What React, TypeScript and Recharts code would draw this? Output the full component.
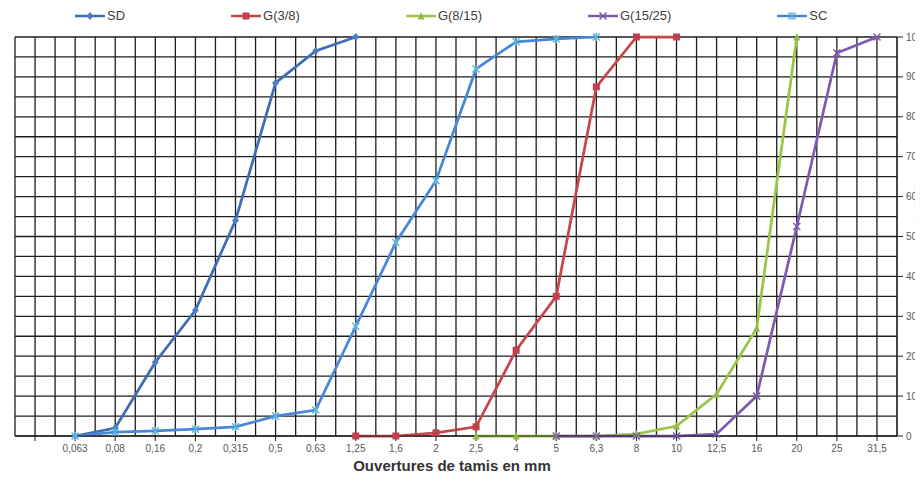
import React from "react";
import { CartesianGrid, Legend, Line, LineChart, XAxis, YAxis } from "recharts";

// sieve openings (mm); the first slot is an empty category, as in the original sheet
const sieves = ["", "0,063", "0,08", "0,16", "0,2", "0,315", "0,5", "0,63", "1,25", "1,6", "2", "2,5", "4", "5", "6,3", "8", "10", "12,5", "16", "20", "25", "31,5"];

// cumulative passing (%), null where the fraction was not tested
const sd = [null, 0, 2, 18.5, 31.5, 54, 88.5, 96.5, 100, null, null, null, null, null, null, null, null, null, null, null, null, null];
const g38 = [null, null, null, null, null, null, null, null, 0, 0, 0.8, 2.3, 21.5, 35, 87.5, 100, 100, null, null, null, null, null];
const g815 = [null, null, null, null, null, null, null, null, null, null, null, 0, 0, 0, 0, 0.5, 2.5, 10.5, 27, 100, null, null];
const g1525 = [null, null, null, null, null, null, null, null, null, null, null, null, null, 0, 0, 0, 0, 0.5, 10, 52.5, 96, 100];
const sc = [null, 0, 1, 1.3, 1.7, 2.3, 5, 6.5, 27.5, 48.5, 64, 92, 98.8, 99.5, 100, null, null, null, null, null, null, null];

const yTicks = [0, 10, 20, 30, 40, 50, 60, 70, 80, 90, 100];

const data = sieves.map((s, i) => ({
  sieve: s,
  sd: sd[i],
  g38: g38[i],
  g815: g815[i],
  g1525: g1525[i],
  sc: sc[i],
}));

type Shape = "diamond" | "square" | "triangle" | "cross" | "star";

const SERIES: { key: string; name: string; color: string; mark: string; shape: Shape }[] = [
  { key: "sd", name: "SD", color: "#3e6db5", mark: "#4a7fc6", shape: "diamond" },
  { key: "g38", name: "G(3/8)", color: "#c8464a", mark: "#c0404a", shape: "square" },
  { key: "g815", name: "G(8/15)", color: "#9cc446", mark: "#92bb44", shape: "triangle" },
  { key: "g1525", name: "G(15/25)", color: "#7e5bb0", mark: "#7a5aa8", shape: "cross" },
  { key: "sc", name: "SC", color: "#4787d6", mark: "#5fb4dc", shape: "star" },
];

const FONT = "Liberation Sans, Arial, sans-serif";

function Marker({ cx, cy, shape, color }: { cx: number; cy: number; shape: Shape; color: string }) {
  const r = 3.5;
  switch (shape) {
    case "diamond":
      return <polygon points={`${cx},${cy - r - 0.5} ${cx + r},${cy} ${cx},${cy + r + 0.5} ${cx - r},${cy}`} fill={color} />;
    case "square":
      return <rect x={cx - r} y={cy - r} width={r * 2} height={r * 2} fill={color} />;
    case "triangle":
      return <polygon points={`${cx},${cy - r - 0.5} ${cx + r},${cy + r} ${cx - r},${cy + r}`} fill={color} />;
    case "cross":
      return (
        <g stroke={color} strokeWidth={1.5}>
          <line x1={cx - r} y1={cy - r} x2={cx + r} y2={cy + r} />
          <line x1={cx - r} y1={cy + r} x2={cx + r} y2={cy - r} />
        </g>
      );
    default:
      return (
        <g stroke={color} strokeWidth={1.5}>
          <line x1={cx - r} y1={cy - r} x2={cx + r} y2={cy + r} />
          <line x1={cx - r} y1={cy + r} x2={cx + r} y2={cy - r} />
          <line x1={cx} y1={cy - r - 0.5} x2={cx} y2={cy + r + 0.5} />
        </g>
      );
  }
}

function makeDot(shape: Shape, color: string) {
  return (props: any) => {
    const { cx, cy, value, index } = props;
    if (cx == null || cy == null || value == null) return <g key={`d-${index}`} />;
    return (
      <g key={`d-${index}`}>
        <Marker cx={cx} cy={cy} shape={shape} color={color} />
      </g>
    );
  };
}

function LegendContent() {
  return (
    <div style={{ display: "flex", gap: 106, paddingLeft: 75, fontFamily: FONT, fontSize: 13, color: "#404040" }}>
      {SERIES.map((s) => (
        <div key={s.key} style={{ display: "flex", alignItems: "center" }}>
          <svg width={30} height={12} style={{ marginRight: 2 }}>
            <line x1={0} y1={6} x2={30} y2={6} stroke={s.color} strokeWidth={2.5} />
            <Marker cx={15} cy={6} shape={s.shape} color={s.mark} />
          </svg>
          <span>{s.name}</span>
        </div>
      ))}
    </div>
  );
}

export default function App() {
  return (
    <div style={{ margin: -8, width: 923, height: 482, overflow: "hidden", background: "#fff" }}>
      <LineChart width={960} height={482} data={data} margin={{ top: 37, right: 23, left: 15, bottom: 6 }}>
        <CartesianGrid
          stroke="#1e1e1e"
          strokeWidth={1.3}
          verticalCoordinatesGenerator={({ offset }: any) =>
            Array.from({ length: sieves.length * 2 + 1 }, (_, i) => offset.left + (i * offset.width) / (sieves.length * 2))
          }
          horizontalCoordinatesGenerator={({ offset }: any) =>
            Array.from({ length: 21 }, (_, i) => offset.top + (i * offset.height) / 20)
          }
        />
        <XAxis
          dataKey="sieve"
          interval={0}
          height={40}
          padding={{ left: 20, right: 20 }}
          tickSize={5}
          tickMargin={4}
          stroke="#1e1e1e"
          tick={{ fontSize: 10, fill: "#595959", fontFamily: FONT }}
          label={{
            value: "Ouvertures de tamis  en mm",
            position: "insideBottom",
            offset: 5,
            dx: -4,
            style: { fontSize: 15, fontWeight: "bold", fill: "#333", fontFamily: FONT, whiteSpace: "pre" },
          }}
        />
        <YAxis
          orientation="right"
          domain={[0, 100]}
          ticks={yTicks}
          width={40}
          tickSize={6}
          tickMargin={3}
          stroke="#1e1e1e"
          tick={{ fontSize: 10, fill: "#595959", fontFamily: FONT }}
          label={{ value: "Tamisats en %", angle: 90, position: "insideRight", offset: 18, style: { fontSize: 10, fill: "#595959" } }}
        />
        <Legend verticalAlign="middle" align="center" layout="horizontal" wrapperStyle={{ top: 8, left: 0, width: 923 }} content={<LegendContent />} />
        {SERIES.map((s) => (
          <Line
            key={s.key}
            type="linear"
            dataKey={s.key}
            name={s.name}
            stroke={s.color}
            strokeWidth={2.75}
            dot={makeDot(s.shape, s.mark)}
            activeDot={false}
            isAnimationActive={false}
          />
        ))}
      </LineChart>
    </div>
  );
}
